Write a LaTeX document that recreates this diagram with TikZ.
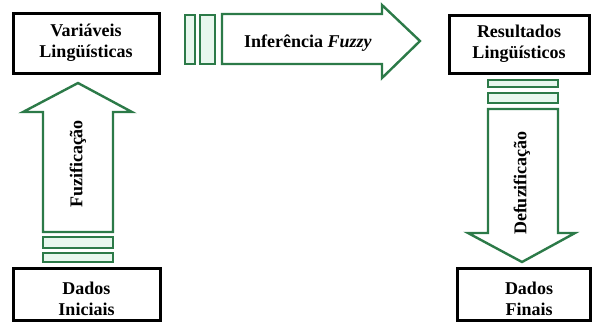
\documentclass[tikz,border=0pt]{standalone}
\usepackage{fontspec}
\setmainfont{Liberation Serif}
\definecolor{arrowgreen}{RGB}{44,122,72}
\definecolor{barfill}{RGB}{232,247,238}
\begin{document}
\begin{tikzpicture}[x=1pt,y=-1pt,
  box/.style={draw=black,line width=3pt,fill=white,inner sep=0pt},
  lbl/.style={align=center,inner sep=0pt,font=\bfseries\fontsize{18}{21}\selectfont},
  blockarrow/.style={draw=arrowgreen,line width=2.4pt,fill=white,line join=miter},
  tailbar/.style={draw=arrowgreen,line width=2.4pt,fill=barfill}]
\useasboundingbox (0,0) rectangle (593,322);

% boxes
\node[box,minimum width=146pt,minimum height=60pt] (var) at (86,43) {};
\node[lbl] at (var.center) {Variáveis\\Lingüísticas};
\node[box,minimum width=140pt,minimum height=58pt] (res) at (519,44) {};
\node[lbl] at (res.center) {Resultados\\Lingüísticos};
\node[box,minimum width=147pt,minimum height=52pt] (ini) at (86.5,294) {};
\node[lbl] at (86.5,299) {Dados\\Iniciais};
\node[box,minimum width=133pt,minimum height=52pt] (fin) at (523.5,294) {};
\node[lbl] at (529,299) {Dados\\Finais};

% upward arrow: fuzzification
\draw[blockarrow] (43,232) -- (43,112) -- (23,112) -- (78,83) -- (132,112)
  -- (113,112) -- (113,232) -- cycle;
\draw[tailbar] (43,237) rectangle (113,248);
\draw[tailbar] (43,253) rectangle (113,262);
\node[lbl,rotate=90] (fuz) at (78,164) {Fuzificação};

% rightward arrow: fuzzy inference
\draw[blockarrow] (222,14) -- (382,14) -- (382,5) -- (420,41) -- (382,78)
  -- (382,64) -- (222,64) -- cycle;
\draw[tailbar] (185,15) rectangle (195,64);
\draw[tailbar] (200,15) rectangle (215,64);
\node[lbl] (inf) at (308,43) {Inferência \textit{Fuzzy}};

% downward arrow: defuzzification
\draw[tailbar] (488,80) rectangle (558,87);
\draw[tailbar] (488,93) rectangle (558,103);
\draw[blockarrow] (488,109) -- (488,233) -- (468,233) -- (522,262) -- (575,233)
  -- (558,233) -- (558,109) -- cycle;
\node[lbl,rotate=90] (def) at (522,183) {Defuzificação};
\end{tikzpicture}
\end{document}
